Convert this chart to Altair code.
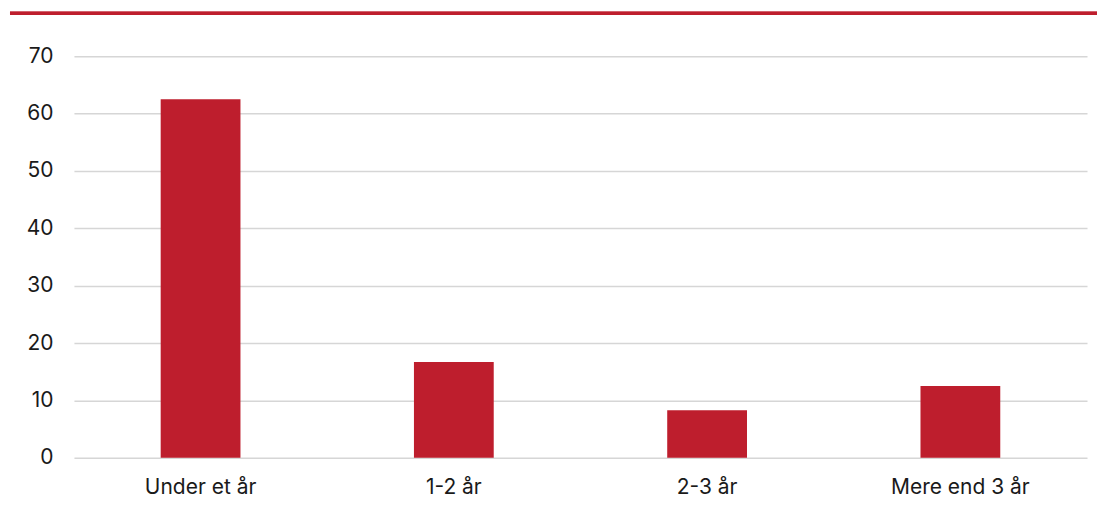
import altair as alt
import pandas as pd

categories = ["Under et år", "1-2 år", "2-3 år", "Mere end 3 år"]
values = [62.5, 16.7, 8.3, 12.5]

df = pd.DataFrame({"kategori": categories, "andel": values})

RED = "#BE1E2D"
FONT = "Inter"

bars = alt.Chart(df).mark_bar(color=RED, width=alt.RelativeBandSize(0.315)).encode(
    x=alt.X("kategori:N", sort=categories, title=None,
            scale=alt.Scale(paddingInner=0, paddingOuter=0),
            axis=alt.Axis(labelAngle=0, labelFontSize=21, labelFont=FONT, labelColor="#1a1a1a",
                          labelPadding=19, ticks=False, domain=False, grid=False)),
    y=alt.Y("andel:Q", title=None,
            scale=alt.Scale(domain=[0, 70]),
            axis=alt.Axis(values=[0, 10, 20, 30, 40, 50, 60, 70], labelFontSize=21, labelFont=FONT,
                          labelColor="#1a1a1a", labelPadding=21, ticks=False, domain=False,
                          gridColor="#d6d6d6", gridWidth=1.5)),
)

topline = alt.Chart(df).mark_rule(color=RED, strokeWidth=3, clip=False).encode(
    x=alt.value(-64), x2=alt.value(1040), y=alt.value(-43)
)

chart = alt.layer(bars, topline).properties(
    width=1014, height=402,
    background="white",
    autosize=alt.AutoSizeParams(type="none"),
    padding={"left": 66, "top": 48, "right": 10, "bottom": 40},
).configure_view(stroke=None)

chart.save("out.html", embed_options={"renderer": "svg", "actions": False})
